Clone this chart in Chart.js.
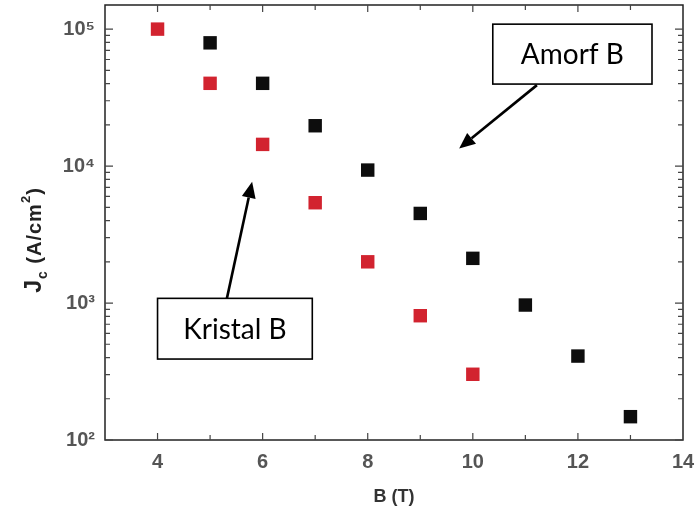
<!DOCTYPE html>
<html><head><meta charset="utf-8">
<script src="https://cdn.jsdelivr.net/npm/chart.js@4"></script>
<style>html,body{margin:0;padding:0;background:#fff}</style>
</head><body>
<canvas id="c" width="697" height="527"></canvas>
<script>
// ---- data ----
const amorfB = [5, 6, 7, 8, 9, 10, 11, 12, 13];
const amorfJc = [79400, 40200, 19700, 9350, 4510, 2120, 967, 410, 148];
const kristalB = [4, 5, 6, 7, 8, 9, 10];
const kristalJc = [100000, 40200, 14400, 5400, 2000, 808, 302];
const xTicks = [4, 6, 8, 10, 12, 14];
const yTicks = [100, 1000, 10000, 100000];
const yTickLabels = ['10\u00B2', '10\u00B3', '10\u2074', '10\u2075'];
const xTitle = 'B (T)';
const yTitleParts = ['J', 'c', ' (A/cm', '2', ')'];
// annotation labels (positions in data units)
const boxLabels = ['Amorf B', 'Kristal B'];
const boxX = [[10.38, 13.41], [4.0, 6.945]];
const boxY = [[108700, 39700], [1082, 390]];
const arrowFrom = [[11.22, 39000], [5.32, 1082]];
const arrowTo = [[9.74, 13460], [5.80, 7675]];

const toPts = (xs, ys) => xs.map((x, i) => ({x, y: ys[i]}));

const decor = {
  id: 'decor',
  afterDraw(chart) {
    const ctx = chart.ctx;
    const xs = chart.scales.x, ys = chart.scales.y;
    const L = xs.getPixelForValue(xs.min), R = xs.getPixelForValue(xs.max);
    const T = ys.getPixelForValue(ys.max), B = ys.getPixelForValue(ys.min);
    ctx.save();
    ctx.strokeStyle = '#222';
    ctx.lineWidth = 1.5;
    ctx.strokeRect(L, T, R - L, B - T);
    // x ticks (inward, bottom and top)
    ctx.lineWidth = 1.2;
    ctx.strokeStyle = '#444';
    for (let v = 4; v <= 13; v++) {
      const px = xs.getPixelForValue(v);
      const len = (v % 2 === 0) ? 7 : 5;
      ctx.beginPath();
      ctx.moveTo(px, B); ctx.lineTo(px, B - len);
      ctx.moveTo(px, T); ctx.lineTo(px, T + len);
      ctx.stroke();
    }
    // y log ticks (inward, left and right)
    for (let d = 100; d <= 100000; d *= 10) {
      for (let m = 1; m <= 9; m++) {
        const v = d * m;
        if (v > ys.max) break;
        const py = ys.getPixelForValue(v);
        const len = m === 1 ? 8 : 5;
        ctx.beginPath();
        ctx.moveTo(L, py); ctx.lineTo(L + len, py);
        ctx.moveTo(R, py); ctx.lineTo(R - len, py);
        ctx.stroke();
      }
    }
    // y axis title (rich text, rotated)
    const fonts = ['bold 23px "Liberation Sans"', 'bold 14px "Liberation Sans"', 'bold 20px "Liberation Sans"', 'bold 13px "Liberation Sans"', 'bold 20px "Liberation Sans"'];
    const offs = [0, 6, 0, -11, 0];
    ctx.letterSpacing = '1px';
    let total = 0;
    const widths = yTitleParts.map((t, i) => { ctx.font = fonts[i]; const w = ctx.measureText(t).width; total += w; return w; });
    ctx.translate(34, 240);
    ctx.rotate(-Math.PI / 2);
    ctx.fillStyle = '#222';
    ctx.textBaseline = 'alphabetic';
    ctx.textAlign = 'left';
    let cx = -total / 2;
    yTitleParts.forEach((t, i) => { ctx.font = fonts[i]; ctx.fillText(t, cx, 7 + offs[i]); cx += widths[i]; });
    ctx.restore();

    // annotations
    ctx.save();
    boxLabels.forEach((lab, i) => {
      const x1 = xs.getPixelForValue(boxX[i][0]), x2 = xs.getPixelForValue(boxX[i][1]);
      const y1 = ys.getPixelForValue(boxY[i][0]), y2 = ys.getPixelForValue(boxY[i][1]);
      ctx.fillStyle = '#fff';
      ctx.fillRect(x1, y1, x2 - x1, y2 - y1);
      ctx.strokeStyle = '#000';
      ctx.lineWidth = 1.6;
      ctx.strokeRect(x1, y1, x2 - x1, y2 - y1);
      ctx.fillStyle = '#000';
      ctx.font = '28px Lato';
      ctx.textAlign = 'center';
      ctx.textBaseline = 'middle';
      ctx.fillText(lab, (x1 + x2) / 2, (y1 + y2) / 2 + 1);
      // arrow
      const sx = xs.getPixelForValue(arrowFrom[i][0]), sy = ys.getPixelForValue(arrowFrom[i][1]);
      const tx = xs.getPixelForValue(arrowTo[i][0]), ty = ys.getPixelForValue(arrowTo[i][1]);
      const ang = Math.atan2(ty - sy, tx - sx);
      const hl = 16, hw = 7;
      const bx = tx - hl * Math.cos(ang), by = ty - hl * Math.sin(ang);
      ctx.lineWidth = 2.6;
      ctx.beginPath(); ctx.moveTo(sx, sy); ctx.lineTo(bx, by); ctx.stroke();
      ctx.beginPath();
      ctx.moveTo(tx, ty);
      ctx.lineTo(bx + hw * Math.sin(ang), by - hw * Math.cos(ang));
      ctx.lineTo(bx - hw * Math.sin(ang), by + hw * Math.cos(ang));
      ctx.closePath(); ctx.fill();
    });
    ctx.restore();
  }
};

new Chart(document.getElementById('c'), {
  type: 'scatter',
  data: {
    datasets: [
      { label: 'Amorf B', data: toPts(amorfB, amorfJc), pointStyle: 'rect', pointRadius: 9.5, pointHoverRadius: 9.5,
        backgroundColor: '#0d0d0d', borderColor: '#0d0d0d', borderWidth: 0 },
      { label: 'Kristal B', data: toPts(kristalB, kristalJc), pointStyle: 'rect', pointRadius: 9.5, pointHoverRadius: 9.5,
        backgroundColor: '#d2232f', borderColor: '#d2232f', borderWidth: 0 }
    ]
  },
  options: {
    responsive: false,
    animation: false,
    devicePixelRatio: 1,
    layout: { autoPadding: false, padding: { top: 5, right: 14, left: 0, bottom: 0 } },
    plugins: { legend: { display: false }, tooltip: { enabled: false } },
    scales: {
      x: {
        type: 'linear', min: 3, max: 14,
        grid: { display: false, drawTicks: false }, border: { display: false },
        afterBuildTicks: s => { s.ticks = xTicks.map(v => ({value: v})); },
        afterFit: s => { s.height = 87; s.paddingLeft = 0; s.paddingRight = 0; },
        ticks: { padding: 10, color: '#555', font: { family: 'Liberation Sans', size: 20, weight: 'bold' }, maxRotation: 0, autoSkip: false },
        title: { display: true, text: xTitle, color: '#333', font: { family: 'Liberation Sans', size: 18, weight: 'bold' }, padding: { top: 4, bottom: 19 } }
      },
      y: {
        type: 'logarithmic', min: 100, max: 150000,
        grid: { display: false, drawTicks: false }, border: { display: false },
        afterBuildTicks: s => { s.ticks = yTicks.map(v => ({value: v})); },
        afterFit: s => { s.width = 105; s.paddingTop = 0; s.paddingBottom = 0; },
        ticks: { padding: 10, color: '#555', autoSkip: false, font: { family: 'Liberation Sans', size: 20, weight: 'bold' },
          callback: (v, i) => yTickLabels[i] }
      }
    }
  },
  plugins: [decor]
});
</script>
</body></html>
